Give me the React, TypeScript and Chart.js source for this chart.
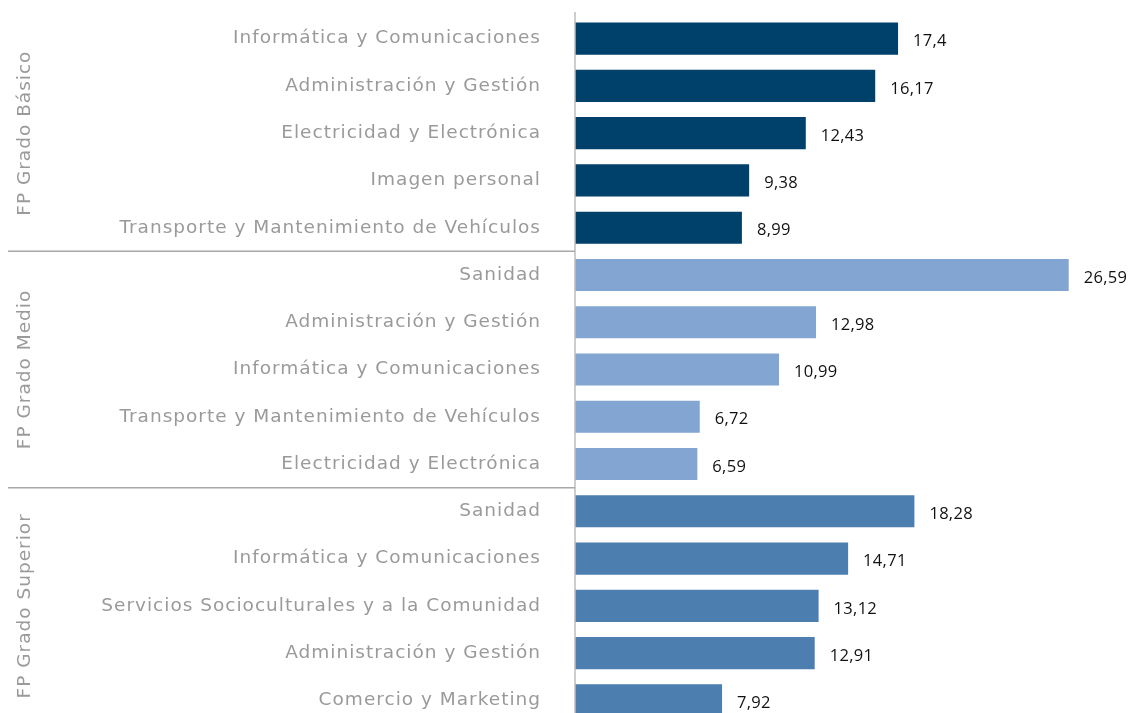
import React, { useEffect, useRef } from "react";
import { Chart, registerables } from "chart.js";

Chart.register(...registerables);

const categories = [
  "Informática y Comunicaciones",
  "Administración y Gestión",
  "Electricidad y Electrónica",
  "Imagen personal",
  "Transporte y Mantenimiento de Vehículos",
  "Sanidad",
  "Administración y Gestión",
  "Informática y Comunicaciones",
  "Transporte y Mantenimiento de Vehículos",
  "Electricidad y Electrónica",
  "Sanidad",
  "Informática y Comunicaciones",
  "Servicios Socioculturales y a la Comunidad",
  "Administración y Gestión",
  "Comercio y Marketing",
];

const values = [
  17.4, 16.17, 12.43, 9.38, 8.99,
  26.59, 12.98, 10.99, 6.72, 6.59,
  18.28, 14.71, 13.12, 12.91, 7.92,
];

const groupNames = ["FP Grado Básico", "FP Grado Medio", "FP Grado Superior"];
const groupSizes = [5, 5, 5];
const groupColors = ["#00416B", "#82A5D1", "#4D7EB0"];

const LABEL_FONT = "'DejaVu Sans', sans-serif";
const VALUE_FONT = "'Open Sans', sans-serif";

const fmt = (v: number) => String(v).replace(".", ",");

export default function App() {
  const ref = useRef<HTMLCanvasElement>(null);

  useEffect(() => {
    if (!ref.current) return;
    const colors: string[] = [];
    groupSizes.forEach((n, g) => {
      for (let i = 0; i < n; i++) colors.push(groupColors[g]);
    });

    const decor = {
      id: "decor",
      beforeDraw(chart: any) {
        chart.ctx.letterSpacing = "1px";
      },
      afterDatasetsDraw(chart: any) {
        const ctx = chart.ctx;
        const y = chart.scales.y;
        const area = chart.chartArea;
        const meta = chart.getDatasetMeta(0);
        ctx.save();
        ctx.letterSpacing = "0.3px";
        ctx.font = "16.5px " + VALUE_FONT;
        ctx.fillStyle = "#111111";
        ctx.textBaseline = "middle";
        ctx.textAlign = "left";
        meta.data.forEach((bar: any, i: number) => {
          ctx.fillText(fmt(values[i]), bar.x + 15, bar.y + 3);
        });

        ctx.strokeStyle = "#bdbdbd";
        ctx.lineWidth = 1.5;
        ctx.beginPath();
        ctx.moveTo(area.left, area.top - 3);
        ctx.lineTo(area.left, area.bottom);
        ctx.stroke();

        let start = 0;
        groupSizes.forEach((n, g) => {
          const end = start + n - 1;
          const mid = (y.getPixelForValue(start) + y.getPixelForValue(end)) / 2;
          ctx.save();
          ctx.translate(25, mid);
          ctx.rotate(-Math.PI / 2);
          ctx.textAlign = "center";
          ctx.textBaseline = "middle";
          ctx.fillStyle = "#9a9a9a";
          ctx.letterSpacing = "1px";
          ctx.font = "18.5px " + LABEL_FONT;
          ctx.fillText(groupNames[g], 0, 0);
          ctx.restore();
          if (g < groupSizes.length - 1) {
            const ySep = (y.getPixelForValue(end) + y.getPixelForValue(end + 1)) / 2;
            ctx.strokeStyle = "#a8a8a8";
            ctx.lineWidth = 1.5;
            ctx.beginPath();
            ctx.moveTo(8, ySep);
            ctx.lineTo(area.left, ySep);
            ctx.stroke();
          }
          start += n;
        });
        ctx.restore();
      },
    };

    const chart = new Chart(ref.current, {
      type: "bar",
      data: {
        labels: categories,
        datasets: [
          {
            data: values,
            backgroundColor: colors,
            barPercentage: 0.68,
            categoryPercentage: 1,
          },
        ],
      },
      options: {
        indexAxis: "y",
        responsive: false,
        animation: false,
        layout: { padding: { top: 15, bottom: 16, left: 0, right: 0 } },
        plugins: {
          legend: { display: false },
          tooltip: { enabled: false },
          title: { display: false },
        },
        scales: {
          x: { display: false, min: 0, max: 30 },
          y: {
            afterFit(scale: any) {
              scale.width = 575;
              scale.paddingTop = 0;
              scale.paddingBottom = 0;
            },
            grid: { display: false, drawTicks: false },
            border: { display: false },
            ticks: {
              color: "#9a9a9a",
              padding: 34,
              font: { family: LABEL_FONT, size: 18.5 },
            },
          },
        },
      },
      plugins: [decor],
    });
    return () => chart.destroy();
  }, []);

  return (
    <div
      style={{
        position: "fixed",
        left: 0,
        top: 0,
        width: 1132,
        height: 713,
        overflow: "hidden",
        background: "#ffffff",
      }}
    >
      <canvas ref={ref} width={1132} height={740} style={{ display: "block" }} />
    </div>
  );
}
